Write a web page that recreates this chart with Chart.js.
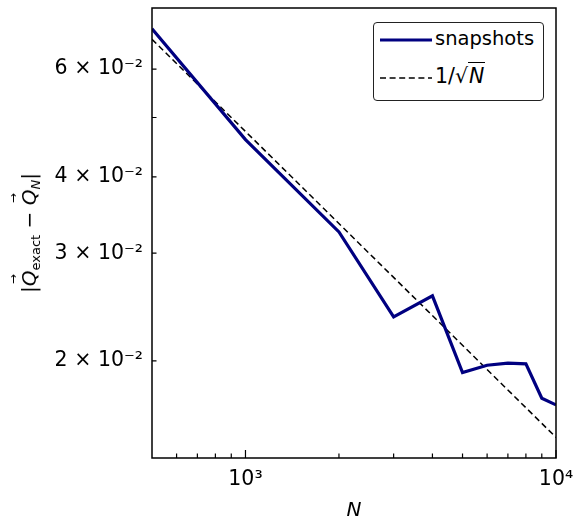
<!DOCTYPE html>
<html>
<head>
<meta charset="utf-8">
<script src="https://cdn.jsdelivr.net/npm/chart.js@4/dist/chart.umd.min.js"></script>
<style>
  html, body { margin:0; padding:0; background:#fff; }
  #wrap { position:relative; width:584px; height:518px; font-family:"DejaVu Sans", sans-serif; color:#000; }
  canvas { position:absolute; left:0; top:0; }
  .lbl { position:absolute; font-size:20px; white-space:nowrap; }
  #xlab { left:344px; top:497px; width:20px; text-align:center; font-style:italic; }
  #ylab { left:30px; top:233px; transform:translate(-50%,-50%) rotate(-90deg); }
  .vec { position:relative; font-style:italic; display:inline-block; }
  .vec::before { content:"\2192"; position:absolute; left:2px; top:-11px; font-size:12px; font-style:normal; }
  sub { font-size:13px; vertical-align:-4px; }
  #legend { position:absolute; left:373px; top:22px; width:169px; height:77px; border:1.3px solid #222; border-radius:4px; background:#fff; }
  .lrow { position:absolute; left:0; height:30px; }
  .lrow svg { position:absolute; left:6px; top:0; }
  .ltxt { position:absolute; left:61px; font-size:19.5px; white-space:nowrap; }
  .sq { border-top:1.4px solid #000; font-style:italic; padding:1px 1px 0 1px; }
</style>
</head>
<body>
<div id="wrap">
  <canvas id="c" width="584" height="518"></canvas>
  <div id="legend">
    <div class="lrow" style="top:2px;">
      <svg width="54" height="30"><line x1="0" y1="15" x2="52" y2="15" stroke="#000080" stroke-width="3.2"/></svg>
      <div class="ltxt" style="top:2px;">snapshots</div>
    </div>
    <div class="lrow" style="top:40px;">
      <svg width="54" height="30"><line x1="0" y1="15" x2="52" y2="15" stroke="#000" stroke-width="1.5" stroke-dasharray="6,3.6"/></svg>
      <div class="ltxt" style="top:1px; font-size:20.5px;">1/√<span class="sq">N</span></div>
    </div>
  </div>
  <div id="xlab" class="lbl">N</div>
  <div id="ylab" class="lbl">|<span class="vec">Q</span><sub>exact</sub> − <span class="vec">Q</span><sub><i>N</i></sub>|</div>
</div>
<script>
// ---- data ----
const N = [500, 1000, 2000, 3000, 4000, 5000, 6000, 7000, 8000, 9000, 10000];
const snapshots = [0.0698, 0.0460, 0.0325, 0.0236, 0.02555, 0.01914, 0.01968, 0.01983, 0.01978, 0.01738, 0.01695];
const refN = [500, 10000];
const refValues = [0.0671, 0.0150];
const xTickValues = [1000, 10000];
const xTickLabels = ["10³", "10⁴"];
const yTickValues = [0.02, 0.03, 0.04, 0.06];
const yTickLabels = ["2 × 10⁻²", "3 × 10⁻²", "4 × 10⁻²", "6 × 10⁻²"];
const xMinorTicks = [600, 700, 800, 900, 2000, 3000, 4000, 5000, 6000, 7000, 8000, 9000];
const yMinorTicks = [0.02, 0.03, 0.04, 0.05, 0.06];

const FONT = { family: "DejaVu Sans", size: 20.5 };

const frame = {
  id: 'frame',
  afterDraw(chart) {
    const { ctx, chartArea: a, scales } = chart;
    ctx.save();
    ctx.strokeStyle = '#000';
    ctx.lineWidth = 1.5;
    ctx.strokeRect(a.left, a.top, a.right - a.left, a.bottom - a.top);
    ctx.lineWidth = 1.2;
    ctx.beginPath();
    xTickValues.forEach(v => {
      const px = scales.x.getPixelForValue(v);
      ctx.moveTo(px, a.bottom); ctx.lineTo(px, a.bottom - 8);
    });
    xMinorTicks.forEach(v => {
      const px = scales.x.getPixelForValue(v);
      ctx.moveTo(px, a.bottom); ctx.lineTo(px, a.bottom - 4.5);
    });
    yMinorTicks.forEach(v => {
      const py = scales.y.getPixelForValue(v);
      ctx.moveTo(a.left, py); ctx.lineTo(a.left + 4.5, py);
    });
    ctx.stroke();
    ctx.restore();
  }
};

function zeroPad(s) { s.paddingTop = 0; s.paddingBottom = 0; s.paddingLeft = 0; s.paddingRight = 0; }

new Chart(document.getElementById('c'), {
  type: 'line',
  data: {
    datasets: [
      {
        label: 'snapshots',
        data: N.map((n, i) => ({ x: n, y: snapshots[i] })),
        borderColor: '#000080',
        borderWidth: 3.2,
        pointRadius: 0,
        tension: 0,
        borderJoinStyle: 'miter'
      },
      {
        label: '1/√N',
        data: refN.map((n, i) => ({ x: n, y: refValues[i] })),
        borderColor: '#000',
        borderWidth: 1.5,
        borderDash: [6, 3.6],
        pointRadius: 0,
        tension: 0
      }
    ]
  },
  options: {
    responsive: false,
    animation: false,
    devicePixelRatio: 1,
    layout: { padding: { left: 0, top: 8, right: 28, bottom: 0 } },
    plugins: { legend: { display: false }, tooltip: { enabled: false } },
    scales: {
      x: {
        type: 'logarithmic',
        min: 500, max: 10000,
        grid: { display: false, drawTicks: false },
        border: { display: false },
        ticks: {
          font: FONT, color: '#000', padding: 9, autoSkip: false, maxRotation: 0,
          callback: (v) => { const i = xTickValues.indexOf(v); return i >= 0 ? xTickLabels[i] : ''; }
        },
        afterBuildTicks: (s) => { s.ticks = xTickValues.map(v => ({ value: v })); },
        afterFit: (s) => { s.height = 60; zeroPad(s); }
      },
      y: {
        type: 'logarithmic',
        min: 0.01388, max: 0.0755,
        grid: { display: false, drawTicks: false },
        border: { display: false },
        ticks: {
          font: FONT, color: '#000', padding: 9, autoSkip: false,
          callback: (v) => { const i = yTickValues.findIndex(t => Math.abs(t - v) < 1e-9); return i >= 0 ? yTickLabels[i] : ''; }
        },
        afterBuildTicks: (s) => { s.ticks = yTickValues.map(v => ({ value: v })); },
        afterFit: (s) => { s.width = 152; zeroPad(s); }
      }
    }
  },
  plugins: [frame]
});
</script>
</body>
</html>
